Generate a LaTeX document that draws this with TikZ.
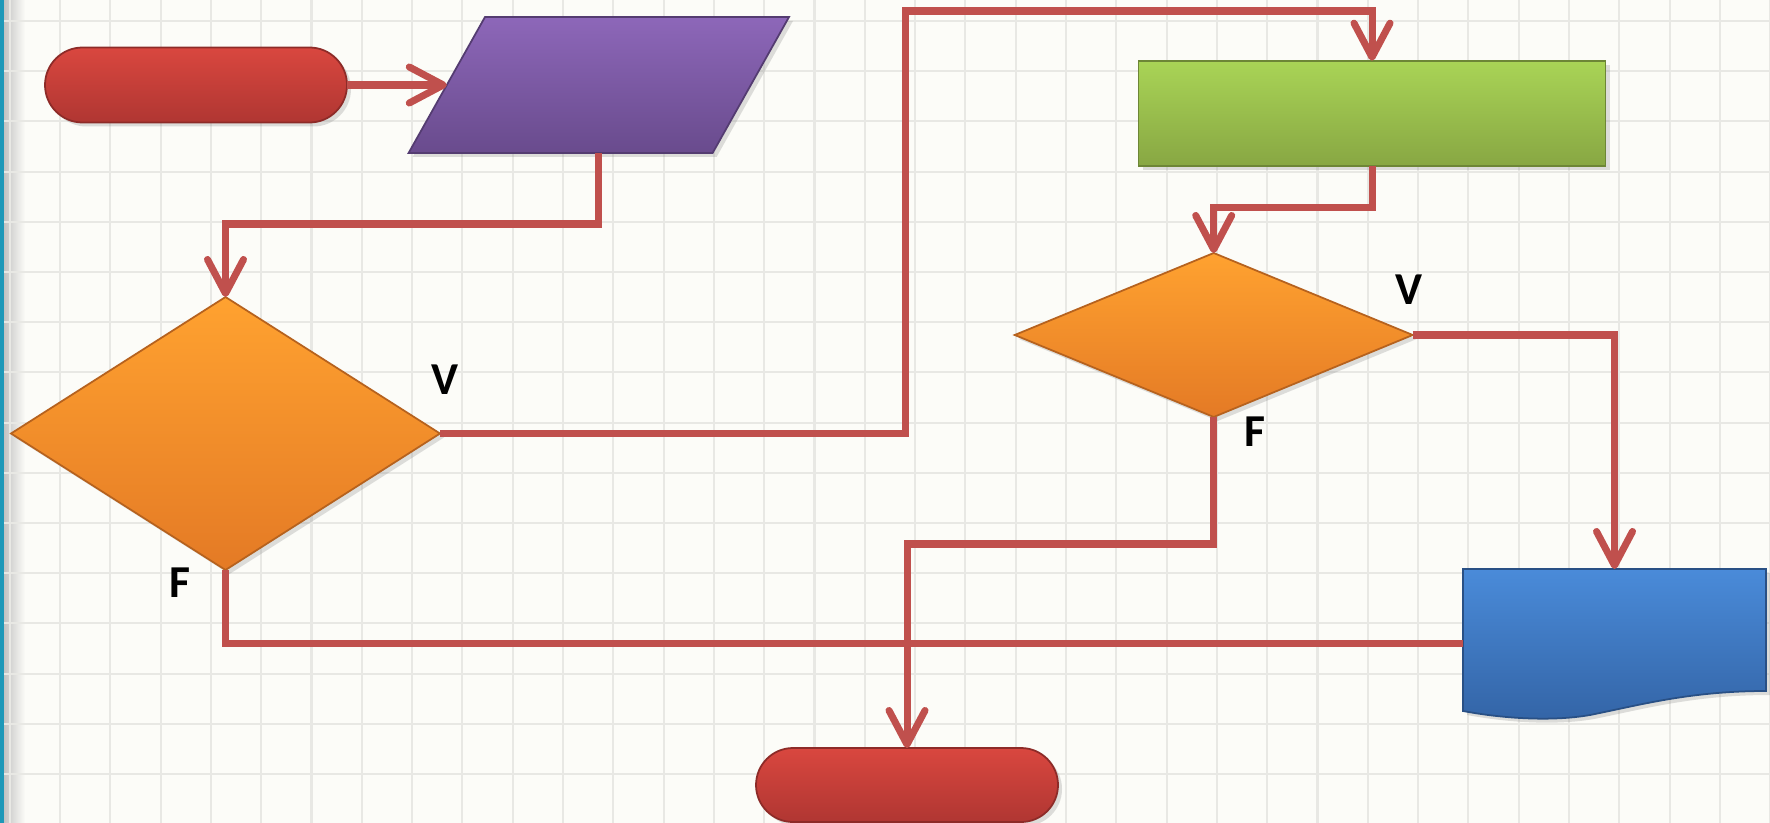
\documentclass[tikz,border=0pt]{standalone}
\usepackage{fontspec}
\setmainfont{Carlito}
\usetikzlibrary{shapes.geometric,shapes.misc,arrows.meta,shadows}

\definecolor{paper}{HTML}{FCFCF8}
\definecolor{gridcol}{HTML}{E8E8E4}
\definecolor{rim}{HTML}{1E98B8}
\definecolor{conn}{HTML}{C0504D}
\definecolor{redtop}{HTML}{D9473F}
\definecolor{redbot}{HTML}{B03632}
\definecolor{purtop}{HTML}{8D67B9}
\definecolor{purbot}{HTML}{694B8D}
\definecolor{grntop}{HTML}{A9D456}
\definecolor{grnbot}{HTML}{88A743}
\definecolor{orntop}{HTML}{FFA230}
\definecolor{ornbot}{HTML}{E47A25}
\definecolor{blutop}{HTML}{4A8BD9}
\definecolor{blubot}{HTML}{3364A6}

\tikzset{
  shape3d/.style={inner sep=0pt, outer sep=0pt, line width=0.5pt,
    drop shadow={opacity=0.25, shadow xshift=0.04cm, shadow yshift=-0.04cm}},
  terminal/.style={shape3d, rounded rectangle, draw=redbot!80!black,
    top color=redtop, bottom color=redbot, minimum width=3.02cm},
  process/.style={shape3d, rectangle, draw=grnbot!80!black,
    top color=grntop, bottom color=grnbot},
  decision/.style={shape3d, diamond, draw=ornbot!80!black,
    top color=orntop, bottom color=ornbot},
  frame/.style={inner sep=0pt, outer sep=0pt},
  flow/.style={draw=conn, line width=2pt,
    -{Straight Barb[length=3.4mm, width=3.6mm, round]}},
  gridline/.style={draw=gridcol, line width=0.6pt},
  lbl/.style={font=\fontsize{13}{15}\selectfont\bfseries, inner sep=0pt}
}

\begin{document}
\begin{tikzpicture}
\useasboundingbox (0,0) rectangle (17.7,-8.23);
\fill[paper] (0,0) rectangle (17.7,-8.23);
\shade[left color=black!25, right color=paper] (0.03,0) rectangle (0.25,-8.23);
\foreach \i in {0,...,35}
  \draw[gridline] (0.097+0.503*\i,0) -- (0.097+0.503*\i,-8.23);
\foreach \j in {0,...,16}
  \draw[gridline] (0.03,-0.21-0.502*\j) -- (17.7,-0.21-0.502*\j);
\fill[rim] (0,0) rectangle (0.035,-8.23);

\node[terminal, minimum height=0.75cm] (start) at (1.96,-0.85) {};
\node[decision, minimum width=4.29cm, minimum height=2.73cm] (test1) at (2.255,-4.335) {};
\node[process, minimum width=4.67cm, minimum height=1.05cm] (calc) at (13.72,-1.132) {};
\node[decision, minimum width=3.98cm, minimum height=1.64cm] (test2) at (12.137,-3.35) {};
\node[terminal, minimum height=0.74cm] (stop) at (9.07,-7.85) {};

% input (parallelogram) and output (document)
\shade[shape3d, draw=purbot!80!black, top color=purtop, bottom color=purbot]
  (4.85,-0.17) -- (7.89,-0.17) -- (7.126,-1.53) -- (4.086,-1.53) -- cycle;
\node[frame, minimum width=3.804cm, minimum height=1.36cm] (read) at (5.988,-0.85) {};
\coordinate (readin) at (4.468,-0.85);

\shade[shape3d, draw=blubot!80!black, top color=blutop, bottom color=blubot]
  (14.63,-5.69) -- (17.66,-5.69) -- (17.66,-6.91)
  .. controls (16.90,-6.91) and (16.40,-7.05) .. (15.90,-7.15)
  .. controls (15.50,-7.22) and (15.00,-7.18) .. (14.63,-7.11) -- cycle;
\node[frame, minimum width=3.03cm, minimum height=1.49cm] (show) at (16.145,-6.435) {};

\coordinate (loop) at (9.05,-0.11);

\draw[flow] (start.east) -- (readin);
\draw[flow] (read.south) -- ++(0,-0.71) -| (test1.north);
\draw[flow] (test1.east) -| (loop) -| (calc.north);
\draw[flow] (calc.south) -- ++(0,-0.42) -| (test2.north);
\draw[flow] (test2.east) -| (show.north);
\draw[flow] (test2.south) -- ++(0,-1.27) -| (stop.north);
\draw[draw=conn, line width=2pt] (test1.south) |- (show.west);

\node[lbl] (v1) at (4.45,-3.80) {V};
\node[lbl] (f1) at (1.795,-5.83) {F};
\node[lbl] (v2) at (14.09,-2.90) {V};
\node[lbl] (f2) at (12.55,-4.32) {F};
\end{tikzpicture}
\end{document}
